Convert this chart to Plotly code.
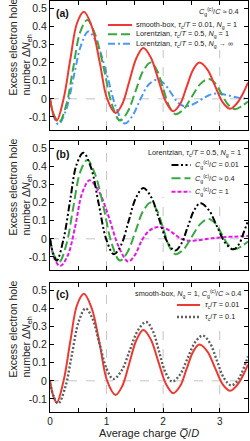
import plotly.graph_objects as go

# ---------------- data ----------------
# smooth-box, tau_c/T = 0.01, N_g = 1, Cg/C ~ 0.4  (panels a and c, red)
x_red = [0, 0.06, 0.12, 0.24, 0.36, 0.48, 0.60, 0.74, 0.88, 1.01, 1.16, 1.28, 1.405, 1.53, 1.65,
         1.78, 1.915, 2.05, 2.18, 2.30, 2.415, 2.53, 2.64, 2.78, 2.915, 3.05, 3.18, 3.26, 3.34, 3.42, 3.5]
y_red = [0.0, -0.085, -0.12, 0.0, 0.22, 0.42, 0.48, 0.398, 0.2, 0.0, -0.078, -0.027, 0.10, 0.227, 0.28,
         0.229, 0.106, -0.017, -0.068, -0.029, 0.066, 0.161, 0.2, 0.163, 0.073, -0.018, -0.055, -0.04, -0.01, 0.035, 0.09]

# Lorentzian, tau_c/T = 0.5, N_g = 1, Cg/C ~ 0.4 (panels a and b, green)
x_green = [0, 0.07, 0.165, 0.29, 0.41, 0.535, 0.66, 0.80, 0.95, 1.09, 1.235, 1.37, 1.51, 1.645, 1.78,
           1.89, 2.0, 2.11, 2.22, 2.365, 2.51, 2.655, 2.80, 2.92, 3.035, 3.15, 3.27, 3.39, 3.5]
y_green = [0.0, -0.09, -0.127, -0.03, 0.17, 0.37, 0.435, 0.354, 0.17, -0.025, -0.12, -0.073, 0.04, 0.153, 0.2,
           0.158, 0.058, -0.043, -0.085, -0.057, 0.013, 0.081, 0.11, 0.086, 0.027, -0.033, -0.057, -0.04, -0.015]

# Lorentzian, tau_c/T = 0.5, N_g -> inf (panel a, blue)
x_blue = [0, 0.07, 0.15, 0.28, 0.415, 0.55, 0.68, 0.84, 1.0, 1.16, 1.32, 1.465, 1.6, 1.75, 1.9,
          2.02, 2.14, 2.26, 2.38, 2.52, 2.665, 2.81, 2.95, 3.1, 3.25, 3.4, 3.5]
y_blue = [0.0, -0.1, -0.14, -0.065, 0.116, 0.297, 0.372, 0.298, 0.14, -0.04, -0.136, -0.09, 0.0, 0.08, 0.106,
          0.084, 0.032, -0.02, -0.042, -0.031, -0.006, 0.02, 0.03, 0.022, 0.012, 0.002, 0.003]

# Lorentzian, Cg/C = 0.01 (panel b, black)
x_black = [0, 0.06, 0.12, 0.24, 0.355, 0.47, 0.59, 0.725, 0.86, 0.995, 1.13, 1.26, 1.39, 1.52, 1.65,
           1.79, 1.93, 2.07, 2.21, 2.32, 2.435, 2.55, 2.66, 2.805, 2.95, 3.095, 3.24, 3.34, 3.43, 3.5]
y_black = [0.0, -0.085, -0.12, 0.0, 0.21, 0.41, 0.475, 0.393, 0.195, -0.003, -0.085, -0.032, 0.098, 0.227, 0.28,
           0.23, 0.108, -0.015, -0.065, -0.027, 0.066, 0.159, 0.197, 0.16, 0.07, -0.021, -0.058, -0.03, 0.04, 0.1]

# Lorentzian, Cg/C = 1 (panel b, magenta)
x_mag = [0, 0.08, 0.18, 0.31, 0.44, 0.57, 0.70, 0.87, 1.04, 1.21, 1.38, 1.5, 1.62, 1.72, 1.82, 1.93,
         2.07, 2.195, 2.32, 2.45, 2.6, 2.8, 3.0, 3.25, 3.5]
y_mag = [0.0, -0.11, -0.15, -0.095, 0.06, 0.254, 0.323, 0.258, 0.12, -0.04, -0.125, -0.09, -0.01, 0.035, 0.058, 0.066,
         0.053, 0.027, 0.0, -0.01, -0.008, 0.0, 0.008, 0.012, 0.016]

# smooth-box, tau_c/T = 0.1 (panel c, gray dotted)
x_gray = [0, 0.07, 0.147, 0.27, 0.39, 0.51, 0.63, 0.75, 0.875, 1.0, 1.12, 1.265, 1.41, 1.555, 1.70,
          1.815, 1.93, 2.045, 2.16, 2.295, 2.43, 2.565, 2.70, 2.825, 2.95, 3.075, 3.2, 3.28, 3.36, 3.43, 3.5]
y_gray = [-0.01, -0.09, -0.125, -0.035, 0.15, 0.33, 0.4, 0.343, 0.205, 0.067, 0.01, 0.056, 0.168, 0.279, 0.325,
          0.277, 0.16, 0.044, -0.004, 0.033, 0.123, 0.213, 0.25, 0.21, 0.112, 0.015, -0.025, -0.012, 0.025, 0.075, 0.135]

y_tick_vals = [-0.1, 0, 0.1, 0.2, 0.3, 0.4, 0.5]
y_tick_text = ["-0.1", "0", "0.1", "0.2", "0.3", "0.4", "0.5"]
x_grid_vals = [1, 2, 3]
x_range = [0, 3.5]
y_range = [-0.172, 0.54]

# ---------------- layout helpers ----------------
W, H = 250, 441
ML, MR, MT, MB = 50, 2, 1, 29
PW = W - ML - MR
PH = H - MT - MB


def px(x):
    return (x - ML) / PW


def py(y):
    return (H - MB - y) / PH


FONT = "Liberation Sans, Arial, sans-serif"
RED = "rgb(236,58,50)"
GREEN = "rgb(58,168,68)"
BLUE = "rgb(74,150,255)"
BLACK = "black"
MAG = "rgb(226,24,230)"
GRAY = "rgb(95,95,95)"
GRID = "#c4c4c4"

DASH_G = "9px,4px"
DASH_B = "7px,3px,2px,3px"
DASH_K = "7px,2.5px,2px,2.5px,2px,2.5px"
DASH_M = "4px,2px"
DASH_D = "2px,2px"

panels = {  # pixel top, bottom
    "a": (1, 130),
    "b": (141, 270),
    "c": (283, 412),
}

fig = go.Figure()


def add(x, y, color, dash, width, xa, ya, name):
    fig.add_trace(go.Scatter(x=x, y=y, mode="lines", name=name, showlegend=False,
                             line=dict(color=color, dash=dash, width=width, shape="spline", smoothing=1),
                             xaxis=xa, yaxis=ya))


# panel a
add(x_blue, y_blue, BLUE, DASH_B, 2, "x", "y", "Lorentzian, Ng→∞")
add(x_green, y_green, GREEN, DASH_G, 2, "x", "y", "Lorentzian, Ng=1")
add(x_red, y_red, RED, "solid", 2, "x", "y", "smooth-box")
# panel b
add(x_mag, y_mag, MAG, DASH_M, 2, "x2", "y2", "Cg/C=1")
add(x_green, y_green, GREEN, DASH_G, 2, "x2", "y2", "Cg/C≈0.4")
add(x_black, y_black, BLACK, DASH_K, 2, "x2", "y2", "Cg/C=0.01")
# panel c
add(x_red, y_red, RED, "solid", 2, "x3", "y3", "τc/T=0.01")
add(x_gray, y_gray, GRAY, DASH_D, 2.4, "x3", "y3", "τc/T=0.1")

tickfont = dict(family=FONT, size=10.5, color="#222")
xtickfont = dict(family=FONT, size=10, color="#222")


def xaxis(anchor, labels):
    return dict(domain=[0, 1], anchor=anchor, range=x_range, showline=True, mirror="ticks",
                linecolor="black", linewidth=1, ticks="inside", ticklen=4, tickcolor="black",
                tickmode="linear", tick0=0, dtick=1, showticklabels=labels, tickfont=xtickfont,
                showgrid=False, zeroline=False,
                minor=dict(dtick=0.5, tick0=0, ticks="inside", ticklen=4, tickcolor="black", showgrid=False))


def yaxis(anchor, top, bot):
    return dict(domain=[py(bot), py(top)], anchor=anchor, range=y_range, showline=True, mirror="ticks",
                linecolor="black", linewidth=1, ticks="inside", ticklen=4, tickcolor="black",
                tickmode="array", tickvals=y_tick_vals, ticktext=y_tick_text, tickfont=tickfont,
                showgrid=False, zeroline=False)


shapes = []
annotations = []
legend_boxes = {"a": (104, 248, 2, 50), "b": (140, 248, 142, 197), "c": (128, 248, 284, 322)}
for i, key in enumerate(["a", "b", "c"]):
    sfx = "" if i == 0 else str(i + 1)
    top, bot = panels[key]
    # dashed grid lines
    shapes.append(dict(type="line", xref="x%s domain" % sfx, yref="y" + sfx, x0=0, x1=1, y0=0, y1=0,
                       line=dict(color=GRID, width=1, dash="dash"), layer="below"))
    for gv in x_grid_vals:
        shapes.append(dict(type="line", xref="x" + sfx, yref="y%s domain" % sfx, x0=gv, x1=gv, y0=0, y1=1,
                           line=dict(color=GRID, width=1, dash="dash"), layer="below"))
    # white legend background covering the grid
    x0, x1, y0, y1 = legend_boxes[key]
    shapes.append(dict(type="rect", xref="x%s domain" % sfx, yref="y%s domain" % sfx,
                       x0=(x0 - ML) / PW, x1=(x1 - ML) / PW,
                       y0=(bot - y1) / (bot - top), y1=(bot - y0) / (bot - top),
                       fillcolor="white", line=dict(width=0), layer="below"))


def sample(x0, x1, y, color, dash, width=2):
    shapes.append(dict(type="line", xref="paper", yref="paper", x0=px(x0), x1=px(x1), y0=py(y), y1=py(y),
                       line=dict(color=color, dash=dash, width=width), layer="above"))


def text(x, y, s, size=7.3, xanchor="left", color="#222", yanchor="middle", **kw):
    annotations.append(dict(xref="paper", yref="paper", x=px(x), y=py(y), text=s, showarrow=False,
                            xanchor=xanchor, yanchor=yanchor, font=dict(family=FONT, size=size, color=color),
                            **kw))


TAU = "<i>τ</i><sub>c</sub>/<i>T</i>"
NG = "<i>N</i><sub>g</sub>"
CG = "<i>C</i><sub>g</sub><sup>(c)</sup>/<i>C</i>"

# panel a legend
text(241, 12, CG + " ≈ 0.4", xanchor="right")
sample(108, 132, 25, RED, "solid")
sample(108, 132, 34.3, GREEN, DASH_G)
sample(108, 132, 43.7, BLUE, DASH_B)
text(134, 25, "smooth-box, " + TAU + " = 0.01, " + NG + " = 1")
text(134, 34.3, "Lorentzian, " + TAU + " = 0.5, " + NG + " = 1")
text(134, 43.7, "Lorentzian, " + TAU + " = 0.5, " + NG + " → ∞")

# panel b legend
text(243, 153, "Lorentzian, " + TAU + " = 0.5, " + NG + " = 1", xanchor="right")
sample(171.5, 190.5, 165, BLACK, DASH_K)
sample(171.5, 190.5, 178.3, GREEN, DASH_G)
sample(171.5, 190.5, 191.7, MAG, DASH_M)
text(193, 165, CG + " = 0.01")
text(193, 178.3, CG + " ≈ 0.4")
text(193, 191.7, CG + " = 1")

# panel c legend
text(243, 293, "smooth-box, " + NG + " = 1, " + CG + " ≈ 0.4", xanchor="right")
sample(177, 200, 305, RED, "solid")
sample(177, 200, 317, GRAY, DASH_D, 2.4)
text(203, 305, TAU + " = 0.01")
text(203, 317, TAU + " = 0.1")

# panel labels
for key, yy in [("a", 13), ("b", 153.5), ("c", 293.5)]:
    text(54, yy, "<b>(%s)</b>" % key, size=10.5, color="#111")

# y-axis titles
for key in ["a", "b", "c"]:
    top, bot = panels[key]
    annotations.append(dict(xref="paper", yref="paper", x=px(20), y=py(top + 97),
                            text="Excess electron hole<br>number Δ<i>N</i><sub>eh</sub>",
                            showarrow=False, textangle=-90, align="left", xanchor="center", yanchor="bottom",
                            font=dict(family=FONT, size=10.5, color="#222")))

# x-axis title
text(149, 441, "Average charge <i>Q\u0305</i>/<i>D</i>", size=11, xanchor="center", yanchor="bottom")

fig.update_layout(
    width=W, height=H,
    margin=dict(l=ML, r=MR, t=MT, b=MB, pad=0),
    paper_bgcolor="white", plot_bgcolor="white",
    showlegend=False,
    xaxis=xaxis("y", False), xaxis2=xaxis("y2", False), xaxis3=xaxis("y3", True),
    yaxis=yaxis("x", *panels["a"]), yaxis2=yaxis("x2", *panels["b"]), yaxis3=yaxis("x3", *panels["c"]),
    shapes=shapes, annotations=annotations,
    font=dict(family=FONT),
)

fig.write_html("out.html", config={"displayModeBar": False},
               post_script="document.body.style.margin='0';document.body.style.padding='0';")
